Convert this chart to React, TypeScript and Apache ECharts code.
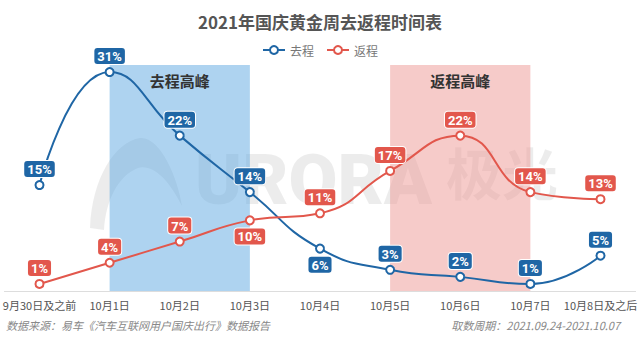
import React, { useEffect, useRef } from "react";
import * as echarts from "echarts";

const categories = ["9月30日及之前", "10月1日", "10月2日", "10月3日", "10月4日", "10月5日", "10月6日", "10月7日", "10月8日及之后"];
const outbound = [15, 31, 22, 14, 6, 3, 2, 1, 5];
const inbound = [1, 4, 7, 10, 11, 17, 22, 14, 13];
const outboundBelow = [4];
const inboundBelow = [3];
const outPeak = ["10月1日", "10月3日"];
const inPeak = ["10月5日", "10月7日"];

const BLUE = "#1f66a5";
const RED = "#e2574c";

echarts.graphic.registerShape(
  "auroraLogo",
  echarts.graphic.extendPath(
    "M 0 90 C 2 40 25 4 50 0 C 70 -2 88 40 92 68 C 78 40 62 26 48 30 C 28 38 16 62 14 92 Z",
    {}
  )
);

export default function App() {
  const ref = useRef<HTMLDivElement>(null);
  useEffect(() => {
    if (!ref.current) return;
    const chart = echarts.init(ref.current, null, { renderer: "svg" });
    const mkLabel = (color: string) => ({
      show: true,
      position: "top",
      distance: 3,
      formatter: "{c}%",
      color: "#fff",
      fontWeight: "bold",
      fontSize: 13,
      fontFamily: "Roboto",
      backgroundColor: color,
      borderRadius: 3,
      padding: [2, 3, 1, 3],
      borderColor: "#fff",
      borderWidth: 1,
    });
    const mkData = (vals: number[], below: number[]) =>
      vals.map((v, i) => (below.includes(i) ? { value: v, label: { position: "bottom" } } : v));
    chart.setOption({
      animation: false,
      title: {
        text: "2021年国庆黄金周去返程时间表",
        left: "center",
        top: 8,
        textStyle: { fontSize: 17, fontWeight: "bold", color: "#555", fontFamily: "Noto Sans CJK SC" },
      },
      legend: {
        top: 39,
        left: "center",
        itemWidth: 22,
        itemHeight: 10,
        itemGap: 12,
        textStyle: { fontSize: 12, color: "#777", fontFamily: "Noto Sans CJK SC" },
        data: ["去程", "返程"],
      },
      graphic: [
        {
          type: "auroraLogo",
          x: 90,
          y: 138,
          z: -10,
          silent: true,
          style: { fill: "rgba(0,0,0,0.075)" },
        },
        {
          type: "text",
          x: 195,
          y: 144,
          z: -10,
          silent: true,
          style: {
            text: "URORA",
            fontSize: 71,
            fontWeight: 900,
            fontFamily: "Roboto",
            fill: "rgba(0,0,0,0.075)",
          },
        },
        {
          type: "text",
          x: 446,
          y: 142,
          z: -10,
          silent: true,
          style: {
            text: "极光",
            fontSize: 56,
            fontWeight: "bold",
            fontFamily: "Noto Sans CJK SC",
            fill: "rgba(0,0,0,0.075)",
          },
        },
        {
          type: "text",
          left: 6,
          top: 319,
          style: {
            text: "数据来源：易车《汽车互联网用户国庆出行》数据报告",
            fontSize: 11,
            fontStyle: "italic",
            fontFamily: "Noto Sans CJK SC",
            fill: "#888",
          },
        },
        {
          type: "text",
          right: 20,
          top: 319,
          style: {
            text: "取数周期：2021.09.24-2021.10.07",
            fontSize: 11,
            fontStyle: "italic",
            fontFamily: "Noto Sans CJK SC",
            fill: "#888",
          },
        },
      ],
      grid: { left: 2, right: 4, top: 65, bottom: 60, containLabel: false },
      xAxis: {
        type: "category",
        data: categories,
        boundaryGap: true,
        axisLine: { lineStyle: { color: "#ddd" } },
        axisTick: { show: false },
        axisLabel: { color: "#555", fontSize: 11, margin: 8, fontFamily: "Noto Sans CJK SC", interval: 0 },
      },
      yAxis: {
        type: "value",
        min: 0,
        max: 32,
        show: false,
        splitLine: { show: false },
      },
      series: [
        {
          name: "去程",
          type: "line",
          smooth: 0.5,
          data: mkData(outbound, outboundBelow),
          color: BLUE,
          lineStyle: { width: 2, color: BLUE },
          symbol: "circle",
          symbolSize: 8,
          itemStyle: { color: "#fff", borderColor: BLUE, borderWidth: 2 },
          label: mkLabel(BLUE),
          z: 3,
          markArea: {
            silent: true,
            itemStyle: { color: "rgba(93,167,225,0.5)" },
            label: {
              show: true,
              position: "insideTop",
              distance: 8,
              color: "#333",
              fontSize: 15,
              fontWeight: "bold",
              fontFamily: "Noto Sans CJK SC",
            },
            data: [[{ name: "去程高峰", xAxis: outPeak[0] }, { xAxis: outPeak[1] }]],
          },
        },
        {
          name: "返程",
          type: "line",
          smooth: 0.5,
          data: mkData(inbound, inboundBelow),
          color: RED,
          lineStyle: { width: 2, color: RED },
          symbol: "circle",
          symbolSize: 8,
          itemStyle: { color: "#fff", borderColor: RED, borderWidth: 2 },
          label: mkLabel(RED),
          z: 3,
          markArea: {
            silent: true,
            itemStyle: { color: "rgba(237,151,147,0.5)" },
            label: {
              show: true,
              position: "insideTop",
              distance: 8,
              color: "#333",
              fontSize: 15,
              fontWeight: "bold",
              fontFamily: "Noto Sans CJK SC",
            },
            data: [[{ name: "返程高峰", xAxis: inPeak[0] }, { xAxis: inPeak[1] }]],
          },
        },
      ],
    });
    return () => chart.dispose();
  }, []);
  return <div ref={ref} style={{ width: 640, height: 351, position: "absolute", left: 0, top: 0 }} />;
}
